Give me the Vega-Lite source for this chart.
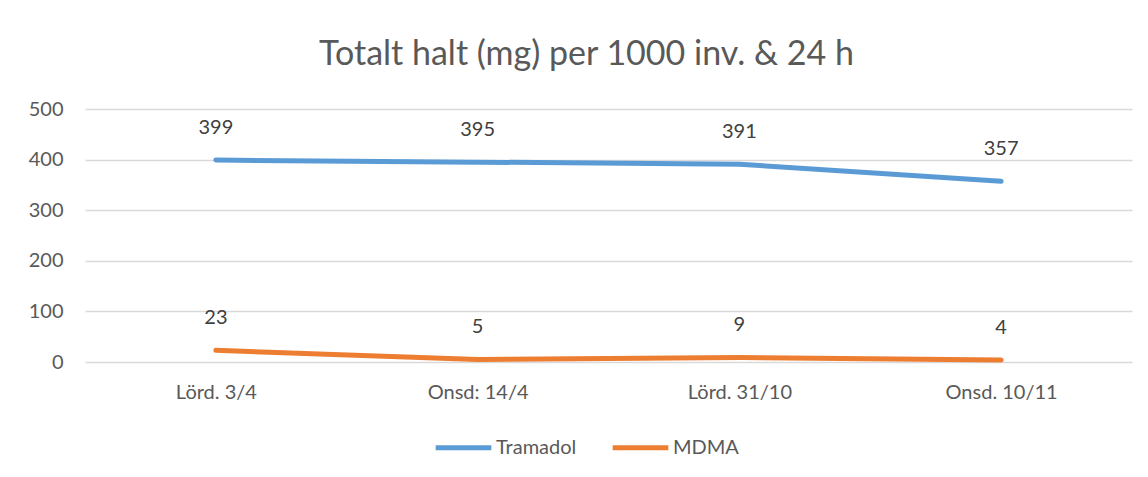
{
  "$schema": "https://vega.github.io/schema/vega-lite/v6.json",
  "autosize": "none",
  "width": 1047,
  "height": 253,
  "padding": {"left": 85, "top": 109, "right": 16, "bottom": 115},
  "background": "white",
  "config": {
    "font": "Lato",
    "view": {"stroke": null}
  },
  "title": {
    "text": "Totalt halt (mg) per 1000 inv. & 24 h",
    "fontSize": 34,
    "fontWeight": "normal",
    "color": "#595959",
    "anchor": "middle",
    "dx": -22,
    "offset": 27
  },
  "data": {
    "values": [
      {"datum": "Lörd. 3/4", "serie": "Tramadol", "varde": 399},
      {"datum": "Onsd: 14/4", "serie": "Tramadol", "varde": 395},
      {"datum": "Lörd. 31/10", "serie": "Tramadol", "varde": 391},
      {"datum": "Onsd. 10/11", "serie": "Tramadol", "varde": 357},
      {"datum": "Lörd. 3/4", "serie": "MDMA", "varde": 23},
      {"datum": "Onsd: 14/4", "serie": "MDMA", "varde": 5},
      {"datum": "Lörd. 31/10", "serie": "MDMA", "varde": 9},
      {"datum": "Onsd. 10/11", "serie": "MDMA", "varde": 4}
    ]
  },
  "encoding": {
    "x": {
      "field": "datum",
      "type": "ordinal",
      "sort": ["Lörd. 3/4", "Onsd: 14/4", "Lörd. 31/10", "Onsd. 10/11"],
      "scale": {"type": "point", "padding": 0.5},
      "axis": {
        "title": null,
        "labelAngle": 0,
        "labelFontSize": 20,
        "labelColor": "#595959",
        "labelPadding": 20,
        "domain": false,
        "ticks": false,
        "grid": false
      }
    },
    "y": {
      "field": "varde",
      "type": "quantitative",
      "scale": {"domain": [0, 500], "nice": false},
      "axis": {
        "title": null,
        "values": [0, 100, 200, 300, 400, 500],
        "labelFontSize": 20,
        "labelColor": "#595959",
        "labelPadding": 22,
        "domain": false,
        "ticks": false,
        "grid": true,
        "gridColor": "#d9d9d9",
        "gridWidth": 1.5
      }
    },
    "color": {
      "field": "serie",
      "type": "nominal",
      "sort": ["Tramadol", "MDMA"],
      "scale": {"domain": ["Tramadol", "MDMA"], "range": ["#5B9BD5", "#ED7D31"]},
      "legend": {
        "title": null,
        "orient": "none",
        "legendX": 348,
        "legendY": 308,
        "direction": "horizontal",
        "symbolType": "stroke",
        "symbolSize": 3100,
        "symbolStrokeWidth": 5,
        "labelFontSize": 20,
        "labelColor": "#595959",
        "labelOffset": 2,
        "columnPadding": 25
      }
    }
  },
  "layer": [
    {
      "mark": {"type": "line", "strokeWidth": 5, "strokeCap": "round", "strokeJoin": "round"}
    },
    {
      "mark": {"type": "text", "dy": -32, "fontSize": 20, "color": "#404040"},
      "encoding": {
        "text": {"field": "varde", "type": "quantitative"},
        "color": {"value": "#404040"}
      }
    }
  ]
}
